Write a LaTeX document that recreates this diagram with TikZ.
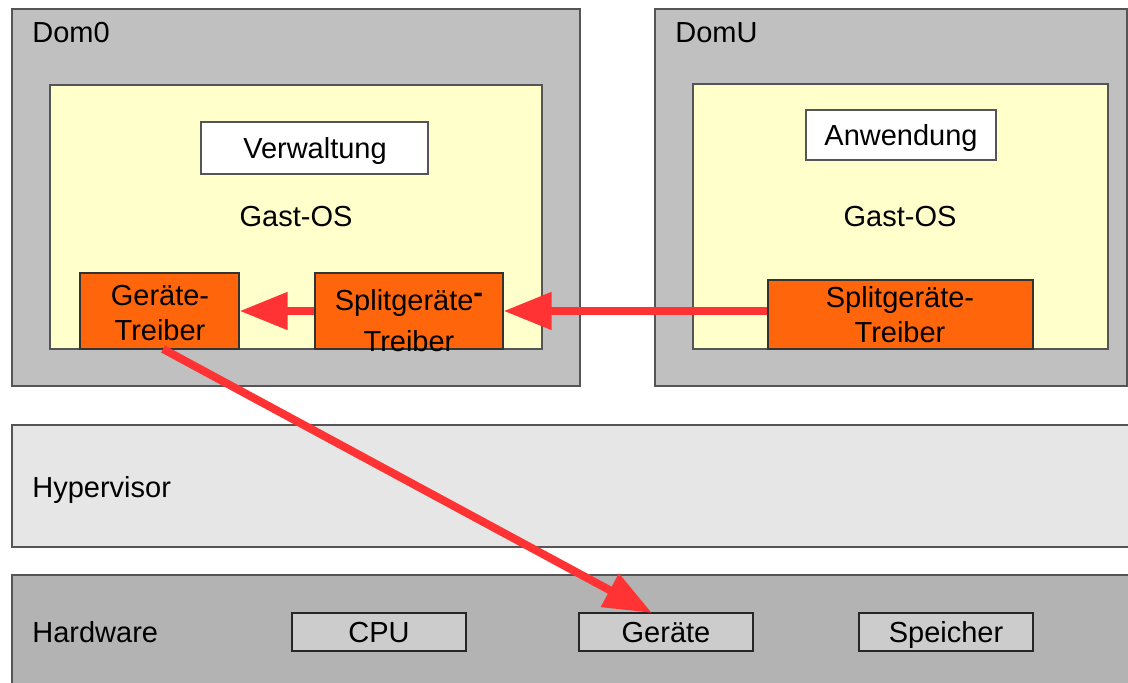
\documentclass[tikz,border=0pt]{standalone}
\usepackage{fontspec}
\setmainfont{Liberation Sans}
\usetikzlibrary{fit,arrows.meta}
\definecolor{domgray}{HTML}{C0C0C0}
\definecolor{osyellow}{HTML}{FFFFCC}
\definecolor{drvorange}{HTML}{FF650A}
\definecolor{hypgray}{HTML}{E6E6E6}
\definecolor{hwgray}{HTML}{B3B3B3}
\definecolor{chipgray}{HTML}{CCCCCC}
\definecolor{flowred}{HTML}{FF3333}
\definecolor{edgegray}{HTML}{555555}
\tikzset{
  panel/.style={draw=edgegray, line width=0.6pt, inner sep=0pt, fill=#1},
  txt/.style={inner sep=0pt, font=\fontsize{14.5}{17}\selectfont,
    text height=10.4pt, text depth=0pt},
  lbl/.style={txt, anchor=west},
  flow/.style={draw=flowred, line width=4pt,
    -{Triangle[length=24pt,width=18pt]}},
}
\begin{document}
\begin{tikzpicture}[x=0.5pt,y=-0.5pt]
\clip (0,0) rectangle (1128,683);
\useasboundingbox (0,0) rectangle (1128,683);
\fill[white] (0,0) rectangle (1128,683);

% Dom0
\node[panel=domgray, fit={(12,9)(580,386)}] (dom0) {};
\node[lbl] (dom0lbl) at (32,32) {Dom0};
\node[panel=osyellow, fit={(50,85)(542,349)}] (os0) {};
\node[panel=white, fit={(201,122)(428,174)}] (verw) {};
\node[txt] (verwt) at (315,148) {Verwaltung};
\node[txt] (gast0) at (296,216) {Gast-OS};
\node[panel=drvorange, draw=black!80, fit={(80,273)(239,349)}] (geraetetr) {};
\node[txt] (gt1) at (160,295) {Geräte-};
\node[txt] (gt2) at (160,330) {Treiber};
\node[panel=drvorange, draw=black!80, fit={(315,273)(503,349)}] (split0) {};
\node[txt] (st1) at (409,300) {Splitgeräte\raisebox{4pt}{\textbf{-}}};
\node[txt] (st2) at (409,341) {Treiber};

% DomU
\node[panel=domgray, fit={(655,9)(1127,386)}] (domu) {};
\node[lbl] (domulbl) at (675,32) {DomU};
\node[panel=osyellow, fit={(693,84)(1108,349)}] (osu) {};
\node[panel=white, fit={(806,110)(996,160)}] (anw) {};
\node[txt] (anwt) at (901,135) {Anwendung};
\node[txt] (gastu) at (900,216) {Gast-OS};
\node[panel=drvorange, draw=black!80, fit={(768,280)(1033,349)}] (splitu) {};
\node[txt] (su1) at (900,297) {Splitgeräte-};
\node[txt] (su2) at (900,332) {Treiber};

% Hypervisor
\node[panel=hypgray, fit={(12,425)(1140,547)}] (hyp) {};
\node[lbl] (hyplbl) at (32,487) {Hypervisor};

% Hardware
\node[panel=hwgray, fit={(12,575)(1140,700)}] (hw) {};
\node[lbl] (hwlbl) at (32,632) {Hardware};
\node[panel=chipgray, draw=black!85, fit={(292,613)(466,651)}] (cpu) {};
\node[txt] (cput) at (379,632) {CPU};
\node[panel=chipgray, draw=black!85, fit={(579,613)(753,651)}] (geraete) {};
\node[txt] (geraetet) at (666,632) {Geräte};
\node[panel=chipgray, draw=black!85, fit={(859,613)(1033,651)}] (speicher) {};
\node[txt] (speichert) at (946,632) {Speicher};

% Data path
\coordinate (a1s) at (split0.west |- 0,311);
\coordinate (a1e) at (geraetetr.east |- 0,311);
\draw[flow] (a1s) -- (a1e);
\coordinate (a2s) at (splitu.west |- 0,311);
\coordinate (a2e) at (split0.east |- 0,311);
\draw[flow] (a2s) -- (a2e);
\coordinate (a3s) at (163,349);
\coordinate (a3e) at (652,613);
\draw[flow] (a3s) -- (a3e);
\end{tikzpicture}
\end{document}
